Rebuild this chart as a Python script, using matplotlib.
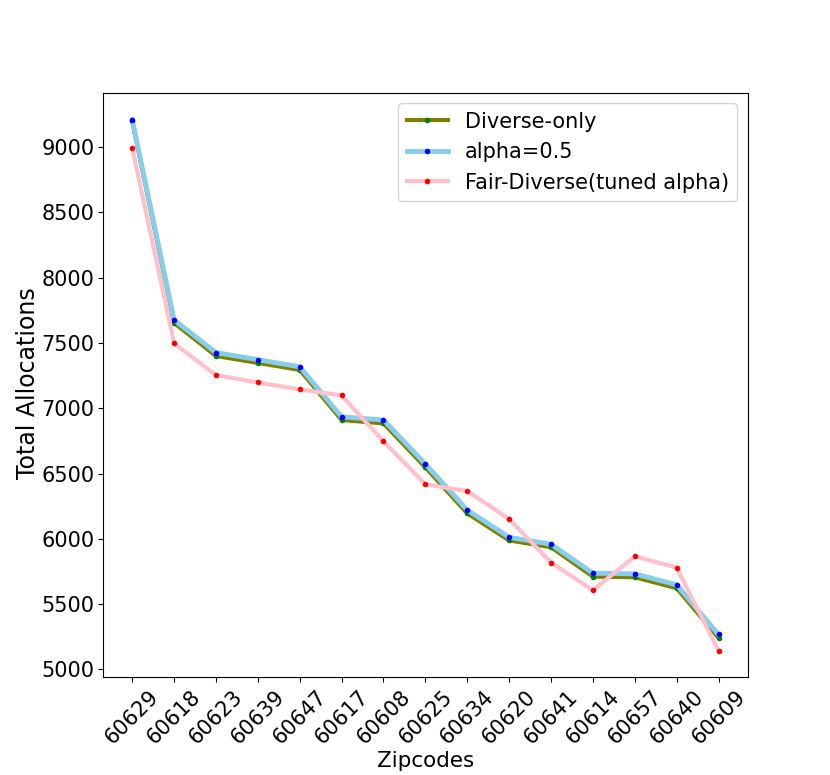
import matplotlib
matplotlib.use("Agg")
import matplotlib.pyplot as plt

zipcodes = ["60629", "60618", "60623", "60639", "60647", "60617", "60608", "60625",
            "60634", "60620", "60641", "60614", "60657", "60640", "60609"]

diverse_only = [9197, 7653, 7400, 7347, 7293, 6910, 6884, 6547, 6195, 5988, 5936, 5711, 5706, 5622, 5242]
alpha_05 = [9210, 7676, 7426, 7372, 7317, 6934, 6910, 6573, 6221, 6012, 5959, 5737, 5732, 5648, 5268]
fair_diverse = [8993, 7496, 7253, 7197, 7144, 7098, 6746, 6417, 6366, 6152, 5818, 5606, 5866, 5780, 5143]

fig = plt.figure(figsize=(8.3, 7.75), dpi=100)
ax = fig.add_subplot(111)
fig.subplots_adjust(left=0.124, right=0.901, top=0.88, bottom=0.126)

x = list(range(len(zipcodes)))
ax.plot(x, diverse_only, color="olive", lw=3, marker=".", markersize=6,
        markerfacecolor="green", markeredgecolor="green", label="Diverse-only")
ax.plot(x, alpha_05, color="skyblue", lw=3.5, marker=".", markersize=6,
        markerfacecolor="blue", markeredgecolor="blue", label="alpha=0.5")
ax.plot(x, fair_diverse, color="pink", lw=3, marker=".", markersize=6,
        markerfacecolor="red", markeredgecolor="red", label="Fair-Diverse(tuned alpha)")

ax.set_xticks(x)
ax.set_xticklabels(zipcodes, rotation=45, fontsize=15)
ax.tick_params(axis="y", labelsize=15, pad=2.5)
ax.tick_params(axis="x", pad=3)
ax.set_xlabel("Zipcodes", fontsize=15.5, va="baseline")
ax.set_ylabel("Total Allocations", fontsize=17, va="baseline")
ax.xaxis.set_label_coords(0.5, -0.153)
ax.yaxis.set_label_coords(-0.105, 0.504)
ax.legend(loc="upper right", fontsize=15)

fig.savefig("out.png", dpi=100)
